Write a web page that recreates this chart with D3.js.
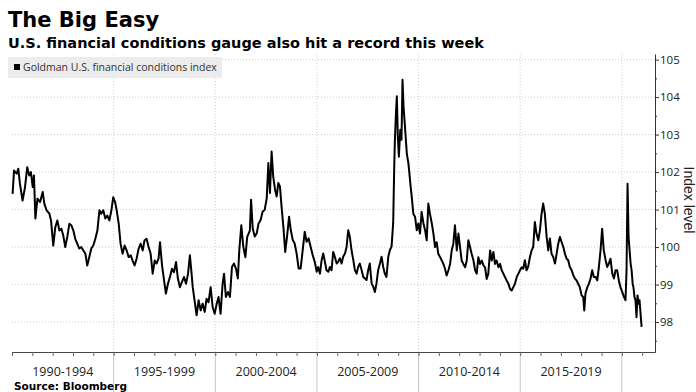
<!DOCTYPE html>
<html>
<head>
<meta charset="utf-8">
<script src="https://cdn.jsdelivr.net/npm/d3@7"></script>
<style>
  html, body { margin: 0; padding: 0; background: #fff; }
  svg { display: block; }
</style>
</head>
<body>
<svg id="chart" width="696" height="392"></svg>
<script>
// ---------- data ----------
const title = "The Big Easy";
const subtitle = "U.S. financial conditions gauge also hit a record this week";
const seriesName = "Goldman U.S. financial conditions index";
const axisTitle = "Index level";
const source = "Source: Bloomberg";

const periodStarts = [1990, 1995, 2000, 2005, 2010, 2015];
const periodLabels = ["1990-1994", "1995-1999", "2000-2004", "2005-2009", "2010-2014", "2015-2019"];
const yTicks = [98, 99, 100, 101, 102, 103, 104, 105];

const years = [
  1990.03,1990.10,1990.23,1990.31,1990.39,1990.52,1990.64,1990.75,1990.85,1990.93,
  1991.02,1991.08,1991.15,1991.25,1991.38,1991.51,1991.59,1991.70,1991.84,1991.92,
  1992.03,1992.13,1992.23,1992.33,1992.43,1992.52,1992.62,1992.72,1992.82,1992.92,
  1993.02,1993.11,1993.21,1993.31,1993.41,1993.51,1993.61,1993.70,1993.80,1993.90,
  1994.00,1994.10,1994.20,1994.30,1994.39,1994.49,1994.59,1994.69,1994.79,1994.89,
  1994.98,1995.07,1995.15,1995.25,1995.34,1995.44,1995.54,1995.64,1995.74,1995.84,
  1995.93,1996.03,1996.13,1996.23,1996.33,1996.43,1996.52,1996.62,1996.72,1996.82,
  1996.92,1997.02,1997.11,1997.21,1997.28,1997.38,1997.48,1997.57,1997.67,1997.77,
  1997.87,1997.97,1998.07,1998.16,1998.26,1998.36,1998.46,1998.56,1998.66,1998.75,
  1998.82,1998.89,1998.98,1999.08,1999.18,1999.28,1999.38,1999.48,1999.57,1999.67,
  1999.77,1999.87,1999.97,2000.07,2000.16,2000.26,2000.36,2000.43,2000.52,2000.62,
  2000.72,2000.82,2000.92,2001.02,2001.11,2001.18,2001.28,2001.38,2001.48,2001.57,
  2001.70,
  2001.76,2001.84,2001.94,2002.04,2002.13,2002.23,2002.33,2002.43,2002.53,2002.61,
  2002.69,2002.77,2002.85,2002.94,2003.02,2003.10,2003.18,2003.26,2003.35,2003.44,
  2003.53,2003.63,2003.71,2003.81,2003.90,2004.00,2004.10,2004.20,2004.30,2004.40,
  2004.49,2004.59,2004.69,2004.79,2004.89,2004.99,
  2005.06,2005.15,2005.23,2005.31,2005.39,2005.47,2005.56,2005.64,2005.72,2005.80,
  2005.88,2005.97,2006.05,2006.13,2006.21,2006.29,2006.38,2006.46,2006.54,2006.62,
  2006.70,2006.79,2006.87,2006.95,2007.03,2007.11,2007.20,2007.28,2007.36,2007.44,
  2007.52,2007.60,2007.69,2007.77,2007.85,2007.93,2008.01,2008.10,2008.18,2008.26,
  2008.34,2008.42,2008.51,2008.59,2008.67,2008.75,2008.80,2008.83,2008.88,2008.93,
  2008.98,2009.03,2009.10,2009.16,2009.21,2009.26,2009.33,
  2009.42,2009.50,2009.55,2009.61,2009.68,2009.74,2009.83,2009.91,2009.99,2010.07,
  2010.15,2010.24,2010.32,2010.40,2010.48,2010.56,2010.65,2010.73,2010.81,2010.89,
  2010.97,2011.06,2011.14,2011.22,2011.30,2011.38,2011.47,2011.55,2011.63,2011.71,
  2011.79,2011.88,2011.96,2012.04,2012.12,2012.20,2012.29,2012.37,2012.45,2012.53,
  2012.61,2012.70,2012.78,2012.86,2012.94,2013.02,2013.11,2013.19,2013.27,2013.35,
  2013.43,2013.52,2013.60,2013.68,2013.76,2013.84,2013.93,2014.01,2014.09,2014.17,
  2014.25,2014.33,2014.42,2014.50,2014.58,2014.66,2014.74,2014.83,2014.91,2014.99,
  2015.07,2015.15,
  2015.23,2015.31,2015.39,2015.48,2015.56,2015.64,2015.72,2015.80,2015.89,2015.97,
  2016.05,2016.13,2016.21,2016.30,2016.38,2016.46,2016.54,2016.62,2016.71,2016.79,
  2016.87,2016.95,2017.03,2017.12,2017.20,2017.28,2017.36,2017.44,2017.53,2017.61,
  2017.69,2017.77,2017.85,2017.93,2018.02,2018.10,2018.15,2018.21,2018.30,2018.38,
  2018.46,2018.54,2018.62,2018.71,2018.79,2018.87,2018.95,2019.03,2019.11,2019.20,
  2019.28,2019.36,2019.44,2019.53,2019.61,2019.69,2019.77,2019.85,2019.93,2020.02,
  2020.10,2020.18,2020.23,2020.28,2020.33,2020.38,2020.43,2020.48,2020.53,2020.57,
  2020.62,2020.67,2020.72,2020.77,2020.82,2020.87,2020.92,2020.97
];

const values = [
  101.42,102.04,101.96,102.09,101.69,101.24,101.60,102.13,101.91,102.00,
  101.60,101.91,100.76,101.29,101.20,101.47,101.16,100.98,100.89,100.71,
  100.04,100.53,100.71,100.44,100.49,100.31,100.00,100.27,100.62,100.58,
  100.44,100.22,100.09,99.96,100.00,99.91,99.82,99.51,99.73,99.96,
  100.04,100.22,100.44,100.98,100.89,100.98,100.76,100.84,100.71,100.98,
  101.33,101.20,100.98,100.62,100.09,99.82,100.04,99.91,99.73,99.78,
  99.64,99.51,99.69,99.96,100.09,99.91,100.18,100.22,100.00,99.82,
  99.29,99.64,99.56,99.69,100.13,99.51,99.11,98.76,99.02,99.20,
  99.42,99.33,99.60,99.16,98.93,99.07,99.20,99.02,99.29,99.78,
  99.38,98.93,98.58,98.18,98.58,98.31,98.49,98.27,98.62,98.53,
  98.93,98.40,98.22,98.49,98.67,98.22,99.02,99.29,98.67,98.80,
  98.67,99.47,99.56,99.42,99.16,99.91,100.58,100.00,99.73,100.27,
  100.44,
  101.26,100.50,100.28,100.37,100.63,100.72,100.95,100.99,101.30,102.24,
  101.44,102.55,101.88,101.53,101.35,101.71,101.62,101.08,100.54,99.87,
  100.28,100.81,100.46,100.19,100.10,99.83,99.43,99.43,99.92,100.41,
  100.14,100.23,100.01,99.79,99.61,99.34,
  99.47,99.29,99.65,99.83,99.61,99.38,99.34,99.47,99.38,99.87,
  99.74,99.56,99.61,99.70,99.56,99.74,99.83,100.01,100.45,100.27,
  99.92,99.65,99.38,99.29,99.47,99.56,99.38,99.20,99.16,99.12,
  99.38,99.56,99.03,98.94,98.80,99.03,99.38,99.56,99.74,99.47,
  99.29,99.20,99.74,99.92,100.01,100.63,102.06,102.77,103.48,104.02,
  102.95,102.41,103.13,102.86,104.46,103.75,103.22,
  102.50,102.23,101.96,101.61,101.25,100.89,100.80,100.45,100.63,100.36,
  100.94,100.63,100.45,100.18,101.16,100.89,100.63,100.36,100.00,100.13,
  99.82,99.73,99.64,99.55,99.42,99.24,99.38,99.55,99.91,100.09,
  100.58,99.91,100.36,100.00,99.64,99.55,99.46,99.64,100.18,100.00,
  99.82,99.64,99.38,99.29,99.73,99.55,99.64,99.51,99.46,99.15,
  99.29,99.91,99.64,99.87,99.55,99.64,99.46,99.55,99.38,99.29,
  99.20,99.11,99.02,98.88,98.84,98.93,99.02,99.20,99.29,99.38,
  99.46,99.42,
  99.65,99.38,99.47,99.74,99.91,100.00,100.67,100.36,100.18,100.45,
  100.89,101.16,100.89,100.27,99.91,100.23,99.82,99.74,99.56,99.82,
  100.09,100.27,100.14,100.00,99.82,99.69,99.65,99.47,99.38,99.25,
  99.16,99.11,99.02,98.93,98.71,98.67,98.31,98.76,98.93,99.02,
  99.16,99.38,99.20,99.20,99.11,99.47,99.91,100.49,99.91,99.65,
  99.47,99.56,99.69,99.29,99.16,99.38,99.38,99.11,98.93,98.80,
  98.67,98.58,99.38,101.69,100.27,99.91,99.56,99.38,99.02,98.93,
  98.67,98.58,98.13,98.71,98.49,98.58,98.22,97.87
];

// ---------- drawing ----------
const svg = d3.select("#chart");
const W = 696, H = 392;
const plot = { left: 12, right: 655, top: 54, bottom: 352 };

const x = d3.scaleLinear().domain([1990, 2021.63]).range([plot.left, plot.right]);
const y = d3.scaleLinear().domain([97.2, 105.15]).range([plot.bottom, plot.top]);

const labelFont = "'Open Sans', 'Noto Sans', sans-serif";
const titleFont = "'DejaVu Sans', Verdana, sans-serif";

// Title and subtitle
svg.append("text").attr("x", 8).attr("y", 27)
  .attr("font-family", titleFont).attr("font-weight", "bold")
  .attr("font-size", 21).attr("fill", "#000").text(title);
svg.append("text").attr("x", 8).attr("y", 48)
  .attr("font-family", titleFont).attr("font-weight", "bold")
  .attr("font-size", 14.5).attr("fill", "#000").text(subtitle);

// Horizontal dotted grid
svg.append("g").selectAll("line").data(yTicks).join("line")
  .attr("x1", plot.left).attr("x2", plot.right)
  .attr("y1", d => y(d)).attr("y2", d => y(d))
  .attr("stroke", "#cfcfcf").attr("stroke-width", 1)
  .attr("stroke-dasharray", "1,2");

// Vertical dividers
const dividers = d3.range(1995, 2021, 5);
svg.append("g").selectAll("line").data(dividers).join("line")
  .attr("x1", d => x(d)).attr("x2", d => x(d))
  .attr("y1", plot.top).attr("y2", plot.bottom)
  .attr("stroke", "#cfcfcf").attr("stroke-width", 1)
  .attr("stroke-dasharray", "1,2");
svg.append("g").selectAll("line").data(dividers).join("line")
  .attr("x1", d => x(d)).attr("x2", d => x(d))
  .attr("y1", plot.bottom).attr("y2", H)
  .attr("stroke", "#c4c4c4").attr("stroke-width", 1);

// Legend
const lg = svg.append("g");
lg.append("rect").attr("x", 8).attr("y", 57).attr("width", 214).attr("height", 21)
  .attr("fill", "#ececec");
lg.append("rect").attr("x", 14).attr("y", 64).attr("width", 6).attr("height", 6)
  .attr("fill", "#000");
lg.append("text").attr("x", 23).attr("y", 71)
  .attr("font-family", labelFont).attr("font-size", 10.5).attr("fill", "#333")
  .text(seriesName);

// Line
const data = years.map((yr, i) => ({ t: yr, v: values[i] }));
svg.append("path").datum(data)
  .attr("fill", "none").attr("stroke", "#000").attr("stroke-width", 2)
  .attr("stroke-linejoin", "round")
  .attr("d", d3.line().x(d => x(d.t)).y(d => y(d.v)));

// Bottom axis (yearly ticks)
const xAxis = svg.append("g").attr("transform", `translate(0,${plot.bottom})`)
  .call(d3.axisBottom(x).tickValues(d3.range(1990, 2022)).tickFormat("").tickSize(4).tickSizeOuter(0));
xAxis.select(".domain").attr("stroke", "#444");
xAxis.selectAll(".tick line").attr("stroke", "#666");

// Period labels
svg.append("g").selectAll("text").data(periodStarts).join("text")
  .attr("x", (d) => x(d + 2.5)).attr("y", 376)
  .attr("text-anchor", "middle")
  .attr("font-family", labelFont).attr("font-size", 12.5).attr("fill", "#222")
  .text((d, i) => periodLabels[i]);

// Right axis
const yAxis = svg.append("g").attr("transform", `translate(${plot.right},0)`)
  .call(d3.axisRight(y).tickValues(yTicks).tickSize(4).tickSizeOuter(0).tickPadding(1));
yAxis.select(".domain").attr("stroke", "#333");
yAxis.selectAll(".tick line").attr("stroke", "#333");
yAxis.selectAll(".tick text").attr("font-family", labelFont).attr("font-size", 11.5).attr("fill", "#222");
svg.append("g").attr("transform", `translate(${plot.right},0)`)
  .call(d3.axisRight(y).tickValues(d3.range(97.5, 105.1, 1)).tickSize(2).tickFormat(""))
  .call(g => g.select(".domain").remove())
  .selectAll(".tick line").attr("stroke", "#333");

// Axis title (rotated, reading downward)
svg.append("text")
  .attr("transform", "translate(683.5,200) rotate(90)")
  .attr("text-anchor", "middle")
  .attr("font-family", "'Liberation Sans', Arial, sans-serif").attr("font-size", 14).attr("fill", "#222")
  .text(axisTitle);

// Source
svg.append("text").attr("x", 14).attr("y", 389.5)
  .attr("font-family", titleFont).attr("font-weight", "bold")
  .attr("font-size", 10.5).attr("fill", "#000").text(source);
</script>
</body>
</html>
